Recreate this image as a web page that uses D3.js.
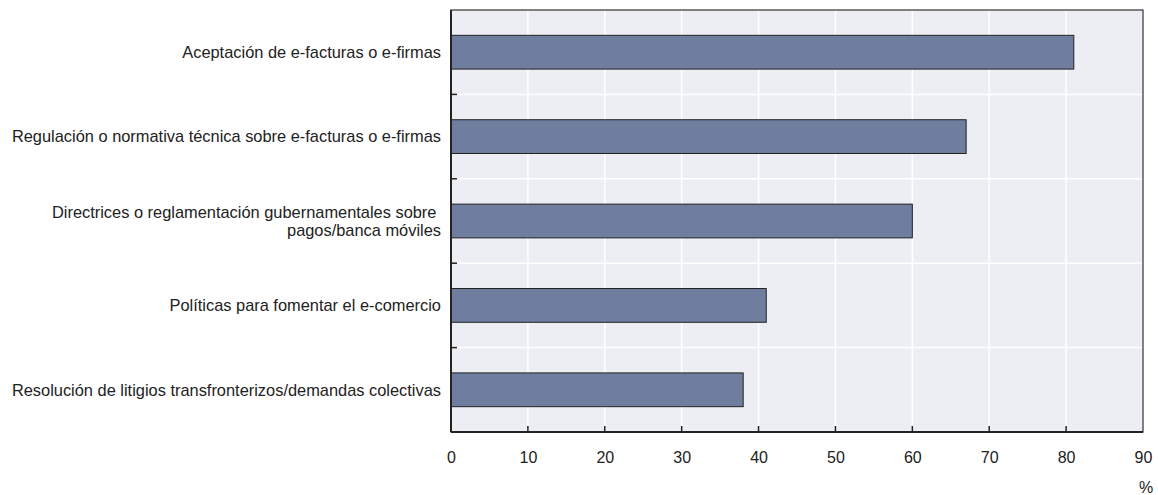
<!DOCTYPE html>
<html><head><meta charset="utf-8">
<script src="https://cdn.jsdelivr.net/npm/d3@7"></script>
<style>body{margin:0;background:#fff}svg{display:block}text{font-family:"Liberation Sans",Arial,sans-serif;fill:#222}</style>
</head><body><svg id="c" width="1158" height="495"></svg>
<script>
const categories = [
  ["Aceptación de e-facturas o e-firmas"],
  ["Regulación o normativa técnica sobre e-facturas o e-firmas"],
  ["Directrices o reglamentación gubernamentales sobre\u00a0", "pagos/banca móviles"],
  ["Políticas para fomentar el e-comercio"],
  ["Resolución de litigios transfronterizos/demandas colectivas"]
];
const values = [81, 67, 60, 41, 38];
const xTicks = [0, 10, 20, 30, 40, 50, 60, 70, 80, 90];
const unitLabel = "%";

const svg = d3.select("#c");
const L = 451, R = 1143, T = 10, B = 432;
const x = d3.scaleLinear().domain([0, 90]).range([L, R]);
const y = d3.scaleBand().domain(d3.range(values.length)).range([T, B]).paddingInner(0.6).paddingOuter(0.3);

svg.append("rect").attr("x", L).attr("y", T).attr("width", R - L).attr("height", B - T).attr("fill", "#edeef4");

svg.append("g").selectAll("line").data(xTicks.slice(1, -1)).join("line")
  .attr("x1", d => x(d)).attr("x2", d => x(d)).attr("y1", T).attr("y2", B)
  .attr("stroke", "#fff").attr("stroke-width", 1.5);
const bounds = d3.range(1, values.length).map(i => T + i * (B - T) / values.length);
svg.append("g").selectAll("line").data(bounds).join("line")
  .attr("x1", L).attr("x2", R).attr("y1", d => d).attr("y2", d => d)
  .attr("stroke", "#fff").attr("stroke-width", 1.5);

svg.append("g").selectAll("rect").data(values).join("rect")
  .attr("x", x(0)).attr("y", (d, i) => y(i)).attr("width", d => x(d) - x(0)).attr("height", y.bandwidth())
  .attr("fill", "#6f7e9e").attr("stroke", "#222").attr("stroke-width", 1);

svg.append("rect").attr("x", L).attr("y", T).attr("width", R - L).attr("height", B - T)
  .attr("fill", "none").attr("stroke", "#333").attr("stroke-width", 1.2);
svg.append("line").attr("x1", L).attr("x2", L).attr("y1", T).attr("y2", B).attr("stroke", "#222").attr("stroke-width", 2);
svg.append("line").attr("x1", L).attr("x2", R).attr("y1", B).attr("y2", B).attr("stroke", "#222").attr("stroke-width", 2);

svg.append("g").selectAll("line").data(bounds).join("line")
  .attr("x1", L).attr("x2", L + 6).attr("y1", d => d).attr("y2", d => d)
  .attr("stroke", "#222").attr("stroke-width", 1.5);

const xAxis = d3.axisBottom(x).tickValues(xTicks).tickSize(0).tickPadding(20);
const gx = svg.append("g").attr("transform", `translate(0,${B})`).call(xAxis);
gx.select(".domain").remove();
gx.selectAll("text").attr("font-size", 16).attr("font-family", "Liberation Sans, Arial, sans-serif").attr("fill", "#222");
svg.append("g").selectAll("line").data(xTicks.slice(1, -1)).join("line")
  .attr("x1", d => x(d)).attr("x2", d => x(d)).attr("y1", B).attr("y2", B - 6)
  .attr("stroke", "#222").attr("stroke-width", 1.5);

svg.append("text").attr("x", 1146).attr("y", 493).attr("text-anchor", "middle").attr("font-size", 16).text(unitLabel);

const lab = svg.append("g").selectAll("text").data(categories).join("text")
  .attr("text-anchor", "end").attr("font-size", 16.4)
  .attr("transform", (d, i) => `translate(441,${y(i) + y.bandwidth() / 2})`);
lab.each(function(lines) {
  const t = d3.select(this);
  const lh = 18;
  lines.forEach((s, k) => {
    t.append("tspan").attr("x", 0).attr("y", (k - (lines.length - 1) / 2) * lh).attr("dy", "0.35em").text(s);
  });
});
</script></body></html>
